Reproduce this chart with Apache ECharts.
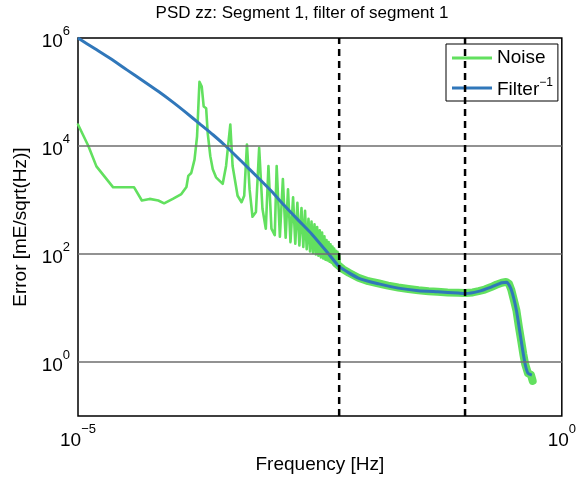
<!DOCTYPE html>
<html>
<head>
<meta charset="utf-8">
<script src="https://cdn.jsdelivr.net/npm/echarts@6/dist/echarts.min.js"></script>
<style>html,body{margin:0;padding:0;background:#fff;}#c{width:579px;height:479px;}</style>
</head>
<body>
<div id="c"></div>
<script>
// Noise (thin part, low frequencies with harmonic peaks): [frequency Hz, value]
const noiseLow = [
[1.0e-5,25000],[1.28e-5,10000],[1.55e-5,4200],[2.31e-5,1720],[3.8e-5,1720],[4.57e-5,980],[5.5e-5,1050],
[6.76e-5,980],[7.76e-5,870],[9.55e-5,1050],[1.17e-4,1290],[1.32e-4,1740],[1.38e-4,2800],[1.48e-4,3160],
[1.6e-4,5600],[1.7e-4,15000],[1.76e-4,63000],[1.80e-4,155000],[1.90e-4,126000],[1.99e-4,54000],
[2.11e-4,50000],[2.19e-4,17400],[2.33e-4,6500],[2.47e-4,3700],[2.67e-4,2630],[2.89e-4,2290],[3.13e-4,2000],
[3.39e-4,4270],[3.57e-4,10700],[3.75e-4,25000],[3.96e-4,4270],[4.46e-4,1200],[4.90e-4,910],[5.22e-4,1200],
[5.57e-4,10700],[5.93e-4,1590],[6.36e-4,490],[6.90e-4,600],[7.45e-4,9300],[8.06e-4,690],[8.73e-4,295],
[9.29e-4,4270],[9.98e-4,295],[1.08e-3,224],[1.13e-3,4270],[1.22e-3,209],[1.31e-3,2450],[1.40e-3,200],
[1.48e-3,1580],[1.57e-3,166],[1.67e-3,1120],[1.76e-3,155],[1.85e-3,890],[1.94e-3,145],[2.04e-3,710],
[2.13e-3,135],[2.22e-3,630],[2.31e-3,123],[2.41e-3,450],[2.50e-3,112],[2.59e-3,400],[2.68e-3,105],
[2.78e-3,355],[2.87e-3,98],[2.96e-3,316],[3.05e-3,93],[3.15e-3,275],[3.24e-3,87],[3.33e-3,250],[3.42e-3,83],
[3.52e-3,214],[3.61e-3,79],[3.70e-3,182],[3.79e-3,76],[3.89e-3,166],[3.98e-3,72],[4.07e-3,151],[4.16e-3,69],
[4.26e-3,138],[4.35e-3,66],[4.44e-3,126],[4.53e-3,63],[4.63e-3,115],[4.72e-3,60],[4.81e-3,110],[4.90e-3,57.5],
[5.00e-3,100],[5.1e-3,55]
];
// Noise (dense band at higher frequencies, drawn as a wide band)
const noiseBand = [
[4.6e-3,68],[5.5e-3,52],[6.3e-3,45],[7.9e-3,36.5],[1.0e-2,31.5],[1.29e-2,28.5],[1.6e-2,26],[2.04e-2,24],
[2.6e-2,22.5],[3.3e-2,21.3],[4.2e-2,20.5],[5.2e-2,20],[6.6e-2,19.5],[8.5e-2,19.2],[0.1,19],[0.12,19.5],
[0.138,20.6],[0.16,22],[0.186,24.5],[0.21,27],[0.24,29.5],[0.265,30.5],[0.285,28],[0.30,22],[0.32,14],
[0.34,8.9],[0.36,4.5],[0.38,2.5],[0.40,1.4],[0.417,0.93],[0.447,0.62],[0.48,0.58],[0.5,0.45]
];
// Inverse filter
const filterInv = [
[1e-5,1e6],[1.5e-5,6.3e5],[2.14e-5,4.2e5],[3.2e-5,2.57e5],[4.68e-5,1.62e5],[6.8e-5,1.02e5],[9.55e-5,6.5e4],
[1.3e-4,4.2e4],[1.8e-4,2.6e4],[2.5e-4,1.6e4],[3.4e-4,9800],[5e-4,5000],[7.4e-4,2500],[1.0e-3,1450],
[1.35e-3,800],[1.9e-3,420],[2.6e-3,235],[3.9e-3,100],[5e-3,59],[7.9e-3,36],[1.29e-2,28],[2.04e-2,23.4],
[3.3e-2,21],[5.2e-2,20],[8.5e-2,19],[0.1,18.6],[0.138,20.4],[0.186,24.5],[0.24,29.5],[0.27,30],[0.30,22],
[0.34,8.9],[0.38,2.5],[0.417,0.93],[0.447,0.62],[0.49,0.575]
];
const gridValues = [1, 100, 10000];
const dashedFreqs = [0.005, 0.1];
const yLabelExps = [0, 2, 4, 6];
const xLabelExps = [-5, 0];
const X_MIN = 1e-5, X_MAX = 1, Y_MIN = 0.1, Y_MAX = 1e6;

const FONT = 'Liberation Sans, Arial, sans-serif';
const rich = {
  b: {fontSize: 19, fontFamily: FONT, color: '#000', lineHeight: 27, verticalAlign: 'bottom'},
  s: {fontSize: 13, fontFamily: FONT, color: '#000', lineHeight: 13, verticalAlign: 'top'}
};
function supLabel(v, allowed) {
  const e = Math.round(Math.log10(v));
  if (allowed.indexOf(e) < 0) return '';
  return '{b|10}{s|' + (e < 0 ? '\u2212' + (-e) : e) + '}';
}

const dashSeries = dashedFreqs.map(f => ({
  type: 'line', name: 'dash' + f, data: [[f, Y_MIN], [f, Y_MAX]], z: 5, silent: true,
  showSymbol: false, symbol: 'none', color: '#000',
  lineStyle: {color: '#000', width: 2.5, type: [7, 5]}
}));

const chart = echarts.init(document.getElementById('c'), null, {renderer: 'canvas'});
chart.setOption({
  animation: false,
  backgroundColor: '#fff',
  title: {
    text: 'PSD zz: Segment 1, filter of segment 1',
    left: 297, textAlign: 'center', top: 0,
    textStyle: {fontSize: 17, fontWeight: 'normal', fontFamily: FONT, color: '#000'}
  },
  grid: {left: 78, right: 15, top: 38, bottom: 60, show: true, borderColor: '#000', borderWidth: 1.5, backgroundColor: 'transparent'},
  legend: {
    data: ['Noise', 'Filter'],
    orient: 'vertical', left: 446, top: 44,
    padding: [3, 5, 2, 6], itemGap: 8, itemWidth: 40, itemHeight: 3,
    icon: 'rect', backgroundColor: '#fff', borderColor: '#000', borderWidth: 1, borderRadius: 0,
    textStyle: {fontSize: 19, fontFamily: FONT, color: '#000', lineHeight: 22,
      rich: {a: {fontSize: 19, fontFamily: FONT, color: '#000', lineHeight: 22, verticalAlign: 'bottom'},
             s: {fontSize: 12, fontFamily: FONT, color: '#000', lineHeight: 12, verticalAlign: 'top'}}},
    formatter: function (n) { return n === 'Filter' ? '{a|Filter}{s|\u22121}' : n; }
  },
  xAxis: {
    type: 'log', logBase: 10, min: X_MIN, max: X_MAX, splitNumber: 5,
    name: 'Frequency [Hz]', nameLocation: 'middle', nameGap: 36,
    nameTextStyle: {fontSize: 19, fontFamily: FONT, color: '#000'},
    axisLine: {show: false}, axisTick: {show: false}, splitLine: {show: false}, minorTick: {show: false},
    axisLabel: {margin: 7, formatter: v => supLabel(v, xLabelExps), rich: rich}
  },
  yAxis: {
    type: 'log', logBase: 10, min: Y_MIN, max: Y_MAX, splitNumber: 7,
    name: 'Error [mE/sqrt(Hz)]', nameLocation: 'middle', nameGap: 45,
    nameTextStyle: {fontSize: 19, fontFamily: FONT, color: '#000'},
    axisLine: {show: false}, axisTick: {show: false}, splitLine: {show: false}, minorTick: {show: false},
    axisLabel: {margin: 8, formatter: v => supLabel(v, yLabelExps), rich: rich}
  },
  series: [
    {type: 'line', name: 'grid', data: [], z: 1, silent: true,
     markLine: {silent: true, symbol: 'none', label: {show: false},
       lineStyle: {color: '#6e6e6e', width: 1.5, type: 'solid'},
       data: gridValues.map(v => ({yAxis: v}))}},
    {type: 'line', name: 'Noise', data: noiseLow, z: 2, showSymbol: false, color: '#62E05F',
     lineStyle: {width: 2.6, color: '#62E05F', join: 'round', cap: 'round'}},
    {type: 'line', name: 'Noise', data: noiseBand, z: 2, showSymbol: false, color: '#62E05F',
     lineStyle: {width: 8, color: '#62E05F', join: 'round', cap: 'round'}},
    {type: 'line', name: 'Filter', data: filterInv, z: 3, showSymbol: false, color: '#3077BA', smooth: 0.2,
     lineStyle: {width: 3, color: '#3077BA', join: 'round'}}
  ].concat(dashSeries)
});
</script>
</body>
</html>
